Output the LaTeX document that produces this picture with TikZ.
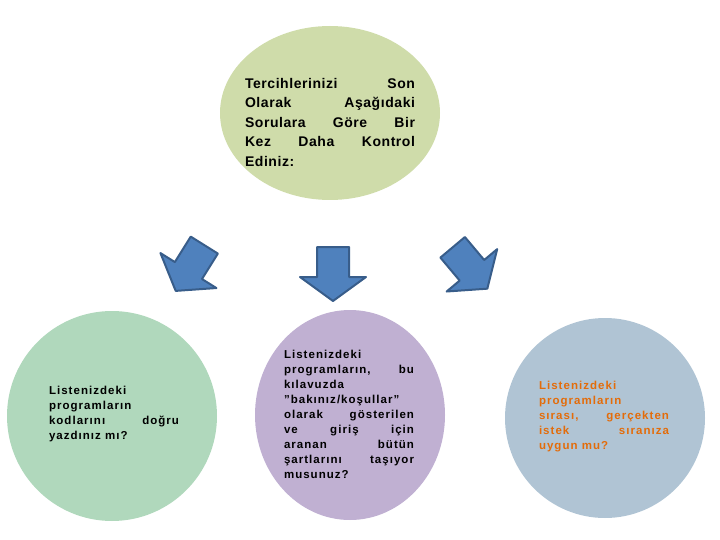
\documentclass[tikz,border=0pt]{standalone}
\usepackage{fontspec}
\setmainfont{Liberation Sans}
\usetikzlibrary{positioning}

\tikzset{
  bubble/.style={font=\bfseries\fontsize{11.5}{15}\selectfont\addfontfeatures{LetterSpace=9}, align=justify, inner sep=0pt},
  blockarrow/.style={fill=arrowblue, draw=arrowedge, line width=2pt, line join=round}
}
\definecolor{topfill}{HTML}{CFDCAA}
\definecolor{leftfill}{HTML}{B0D8BC}
\definecolor{midfill}{HTML}{C0B0D2}
\definecolor{rightfill}{HTML}{B0C4D4}
\definecolor{arrowblue}{HTML}{4F81BD}
\definecolor{arrowedge}{HTML}{385D8A}
\definecolor{orangetext}{HTML}{E36C0A}

\newcommand{\downarrowshape}{(-16,-27) -- (16,-27) -- (16,3) -- (33,3) -- (0,27) -- (-33,3) -- (-16,3) -- cycle}

\begin{document}
\begin{tikzpicture}[x=1pt,y=-1pt]
    \useasboundingbox (0,0) rectangle (720,540);

    % bubbles
    \fill[topfill] (330,113) ellipse [x radius=110, y radius=87];
    \fill[leftfill] (112,416) circle [radius=105];
    \fill[midfill] (350,415) ellipse [x radius=95, y radius=105];
    \fill[rightfill] (605,418) circle [radius=100];

    % texts
    \node[bubble, text width=170, font=\bfseries\fontsize{14}{19.5}\selectfont\addfontfeatures{LetterSpace=4}] (soru) at (330,122)
      {Tercihlerinizi Son\linebreak Olarak Aşağıdaki\linebreak Sorulara Göre Bir\linebreak Kez Daha Kontrol\linebreak Ediniz:};
    \node[bubble, text width=130] (kod) at (114,414)
      {Listenizdeki\linebreak programların\linebreak kodlarını doğru\linebreak yazdınız mı?};
    \node[bubble, text width=130] (kilavuz) at (349,414)
      {Listenizdeki\linebreak programların, bu\linebreak kılavuzda\linebreak \symbol{34}bakınız/koşullar\symbol{34}\linebreak olarak gösterilen\linebreak ve giriş için\linebreak aranan bütün\linebreak şartlarını taşıyor\linebreak musunuz?};
    \node[bubble, text width=130, text=orangetext] (sira) at (604,417)
      {Listenizdeki\linebreak programların\linebreak sırası, gerçekten\linebreak istek sıranıza\linebreak uygun mu?};

    % arrows
    \draw[blockarrow, shift={(333,274)}] \downarrowshape;
    \draw[blockarrow, shift={(190,268)}, rotate=-32] \downarrowshape;
    \draw[blockarrow, shift={(470,268)}, rotate=40] \downarrowshape;

\end{tikzpicture}
\end{document}
